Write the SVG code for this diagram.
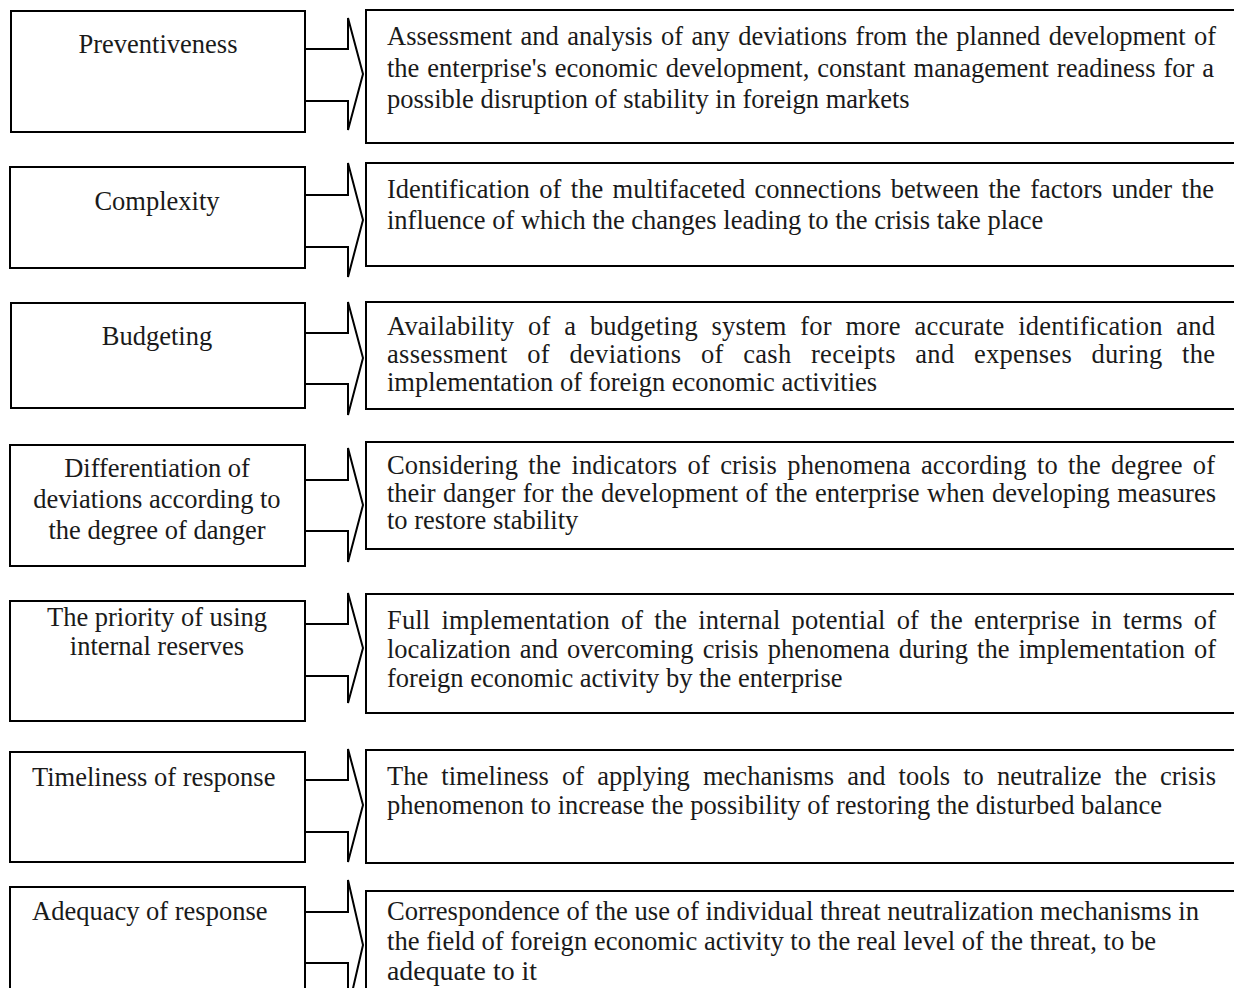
<svg xmlns="http://www.w3.org/2000/svg" width="1234" height="988" viewBox="0 0 1234 988">
<style>
.box{fill:#fff;stroke:#000;stroke-width:2}
.arr{fill:#fff;stroke:#000;stroke-width:2;stroke-linejoin:miter}
text{font-family:"Liberation Serif","Times New Roman",serif;font-size:26.5px;fill:#1a1a1a}
.c{text-anchor:middle}
.n{font-size:28px}
</style>
<rect width="1234" height="988" fill="#fff"/>
<g id="connectors">
<polygon class="arr" points="305,49 348,49 348,18 363,74 348,130 348,101 305,101"/>
<polygon class="arr" points="305,195 348,195 348,163 363,220 348,277 348,247 305,247"/>
<polygon class="arr" points="305,333 348,333 348,302 363,358 348,415 348,384 305,384"/>
<polygon class="arr" points="305,480 348,480 348,448 363,505 348,562 348,531 305,531"/>
<polygon class="arr" points="305,624 348,624 348,593 363,648 348,703 348,676 305,676"/>
<polygon class="arr" points="305,780 348,780 348,749 363,805 348,862 348,832 305,832"/>
<polygon class="arr" points="305,912 348,912 348,880 363,945 348,1010 348,963 305,963"/>
</g>
<g id="n1"><rect class="box" x="11" y="11" width="294" height="121"/><text class="c" x="158" y="53">Preventiveness</text></g>
<g id="d1"><rect class="box" x="366" y="10" width="880" height="133"/>
<text x="387" y="45" word-spacing="1.8" textLength="829" lengthAdjust="spacing">Assessment and analysis of any deviations from the planned development of</text>
<text x="387" y="77" word-spacing="1.3" textLength="827" lengthAdjust="spacing">the enterprise's economic development, constant management readiness for a</text>
<text x="387" y="108">possible disruption of stability in foreign markets</text></g>
<g id="n2"><rect class="box" x="10" y="167" width="295" height="101"/><text class="c" x="157" y="210">Complexity</text></g>
<g id="d2"><rect class="box" x="366" y="163" width="880" height="103"/>
<text x="387" y="198" word-spacing="2.8" textLength="827" lengthAdjust="spacing">Identification of the multifaceted connections between the factors under the</text>
<text x="387" y="229">influence of which the changes leading to the crisis take place</text></g>
<g id="n3"><rect class="box" x="11" y="303" width="294" height="105"/><text class="c" x="157" y="345">Budgeting</text></g>
<g id="d3"><rect class="box" x="366" y="302" width="880" height="107"/>
<text x="387" y="335" word-spacing="6.85" textLength="828" lengthAdjust="spacing">Availability of a budgeting system for more accurate identification and</text>
<text x="387" y="363" word-spacing="12.6" textLength="828" lengthAdjust="spacing">assessment of deviations of cash receipts and expenses during the</text>
<text x="387" y="391">implementation of foreign economic activities</text></g>
<g id="n4"><rect class="box" x="10" y="445" width="295" height="121"/>
<text class="c" x="157" y="477">Differentiation of</text>
<text class="c" x="157" y="508">deviations according to</text>
<text class="c" x="157" y="539">the degree of danger</text></g>
<g id="d4"><rect class="box" x="366" y="442" width="880" height="107"/>
<text x="387" y="474" word-spacing="3.5" textLength="828" lengthAdjust="spacing">Considering the indicators of crisis phenomena according to the degree of</text>
<text x="387" y="502" word-spacing="0.9" textLength="829" lengthAdjust="spacing">their danger for the development of the enterprise when developing measures</text>
<text x="387" y="529">to restore stability</text></g>
<g id="n5"><rect class="box" x="10" y="601" width="295" height="120"/>
<text class="c" x="157" y="626">The priority of using</text>
<text class="c" x="157" y="655">internal reserves</text></g>
<g id="d5"><rect class="box" x="366" y="594" width="880" height="119"/>
<text x="387" y="629" word-spacing="4.3" textLength="829" lengthAdjust="spacing">Full implementation of the internal potential of the enterprise in terms of</text>
<text x="387" y="658" word-spacing="2.4" textLength="829" lengthAdjust="spacing">localization and overcoming crisis phenomena during the implementation of</text>
<text x="387" y="687">foreign economic activity by the enterprise</text></g>
<g id="n6"><rect class="box" x="10" y="752" width="295" height="110"/>
<text x="32" y="786">Timeliness of response</text></g>
<g id="d6"><rect class="box" x="366" y="750" width="880" height="113"/>
<text x="387" y="785" word-spacing="6.5" textLength="829" lengthAdjust="spacing">The timeliness of applying mechanisms and tools to neutralize the crisis</text>
<text x="387" y="814">phenomenon to increase the possibility of restoring the disturbed balance</text></g>
<g id="n7"><rect class="box" x="10" y="887" width="295" height="120"/>
<text x="32" y="920">Adequacy of response</text></g>
<g id="d7"><rect class="box" x="366" y="891" width="880" height="120"/>
<text class="n" x="387" y="920" textLength="812" lengthAdjust="spacingAndGlyphs">Correspondence of the use of individual threat neutralization mechanisms in</text>
<text class="n" x="387" y="950" textLength="769" lengthAdjust="spacingAndGlyphs">the field of foreign economic activity to the real level of the threat, to be</text>
<text class="n" x="387" y="980" textLength="150" lengthAdjust="spacingAndGlyphs">adequate to it</text></g>
</svg>
